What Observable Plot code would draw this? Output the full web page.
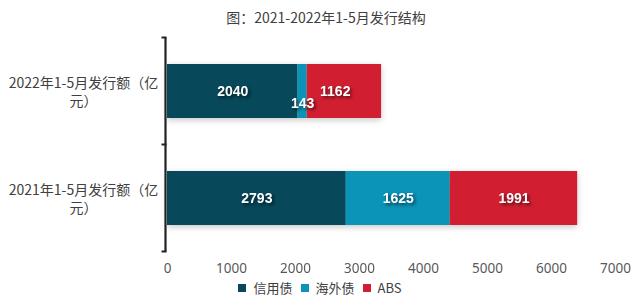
<!DOCTYPE html>
<html>
<head>
<meta charset="utf-8">
<script src="https://cdn.jsdelivr.net/npm/d3@7"></script>
<script src="https://cdn.jsdelivr.net/npm/@observablehq/plot@0.6"></script>
<style>
  html, body { margin: 0; padding: 0; background: #fff; }
  #wrap { position: relative; width: 640px; height: 306px; overflow: hidden; font-family: "Noto Sans CJK SC", "Noto Sans", sans-serif; }
  #title { position: absolute; top: 8px; left: 6px; width: 640px; text-align: center; font-size: 14px; color: #404040; line-height: 18px; }
  #legend { position: absolute; top: 279px; left: 0; width: 640px; display: flex; justify-content: center; font-size: 13px; color: #404040; line-height: 18px; }
  #legend .item { display: flex; align-items: center; margin: 0 4px; }
  #legend .sw { width: 8px; height: 8px; margin-right: 7px; }
  #chart { position: absolute; top: 0; left: 0; }
</style>
</head>
<body>
<div id="wrap">
  <div id="chart"></div>
  <div id="title"></div>
  <div id="legend"></div>
</div>
<script>
const titleText = "图：2021-2022年1-5月发行结构";
const categories = ["2022年1-5月发行额（亿元）", "2021年1-5月发行额（亿元）"];
const seriesNames = ["信用债", "海外债", "ABS"];
const seriesColors = ["#07485b", "#0b93b8", "#d11f31"];
const values2022 = [2040, 143, 1162];
const values2021 = [2793, 1625, 1991];
const xTicks = [0, 1000, 2000, 3000, 4000, 5000, 6000, 7000];

const data = [];
[values2022, values2021].forEach((vals, i) => {
  vals.forEach((v, j) => data.push({ year: categories[i], type: seriesNames[j], value: v }));
});

document.getElementById("title").textContent = titleText;
const legend = document.getElementById("legend");
seriesNames.forEach((n, i) => {
  const it = document.createElement("div");
  it.className = "item";
  it.innerHTML = `<span class="sw" style="background:${seriesColors[i]}"></span><span>${n}</span>`;
  legend.appendChild(it);
});

// bracket-like y axis line with ticks at band boundaries
function yAxisLine(index, scales, values, dimensions) {
  const y = scales.y, x = scales.x;
  const bw = y.bandwidth();
  const step = y(categories[1]) - y(categories[0]);
  const pad = (step - bw) / 2;
  const bounds = [y(categories[0]) - pad, y(categories[0]) + bw + pad, y(categories[1]) + bw + pad];
  const x0 = x(0) - 1.5;
  const g = d3.create("svg:g").attr("stroke", "#222").attr("fill", "none");
  g.append("line").attr("x1", x0).attr("x2", x0).attr("y1", bounds[0]).attr("y2", bounds[2]).attr("stroke-width", 2.2);
  bounds.forEach(b => {
    g.append("line").attr("x1", x0 - 4).attr("x2", x0 + 1).attr("y1", b).attr("y2", b).attr("stroke-width", 2);
  });
  return g.node();
}

const labelFont = "'Liberation Sans', Arial, sans-serif";

const plot = Plot.plot({
  width: 640,
  height: 306,
  marginLeft: 167,
  marginRight: 25,
  marginTop: 37,
  marginBottom: 55,
  style: { background: "transparent", overflow: "visible" },
  x: { domain: [0, 7000] },
  y: { domain: categories, paddingInner: 0.5, paddingOuter: 0.25 },
  color: { domain: seriesNames, range: seriesColors },
  marks: [
    Plot.barX(data, Plot.stackX({
      x: "value", y: "year", fill: "type", z: "type",
      imageFilter: "drop-shadow(0px 2px 3px rgba(0,0,0,0.22))"
    })),
    Plot.text(data.filter(d => d.value >= 300), Plot.stackX({
      x: "value", y: "year", z: "type", text: d => String(d.value),
      fill: "white", fontSize: 14, fontWeight: "bold", fontFamily: labelFont,
      imageFilter: "drop-shadow(2px 2px 1.5px rgba(0,0,0,0.55))"
    })),
    Plot.text(data, Plot.stackX({
      x: "value", y: "year", z: "type", text: d => d.value < 300 ? String(d.value) : "",
      fill: "white", fontSize: 14, fontWeight: "bold", fontFamily: labelFont, dy: 12,
      imageFilter: "drop-shadow(2px 2px 1.5px rgba(0,0,0,0.55))"
    })),
    Plot.axisX({
      ticks: xTicks, tickSize: 0, tickPadding: 12, tickFormat: d => String(d),
      fontSize: 13.5, fontFamily: "'Noto Sans', sans-serif", fill: "#595959", label: null
    }),
    Plot.axisY({
      tickSize: 0, tickPadding: 0, textAnchor: "middle", dx: -84,
      tickFormat: d => d.replace("亿元）", "亿\n元）"), lineHeight: 1.25,
      fontSize: 14, fontFamily: "'Noto Sans CJK SC', sans-serif", fill: "#404040", label: null
    }),
    yAxisLine
  ]
});
document.getElementById("chart").appendChild(plot);
</script>
</body>
</html>
